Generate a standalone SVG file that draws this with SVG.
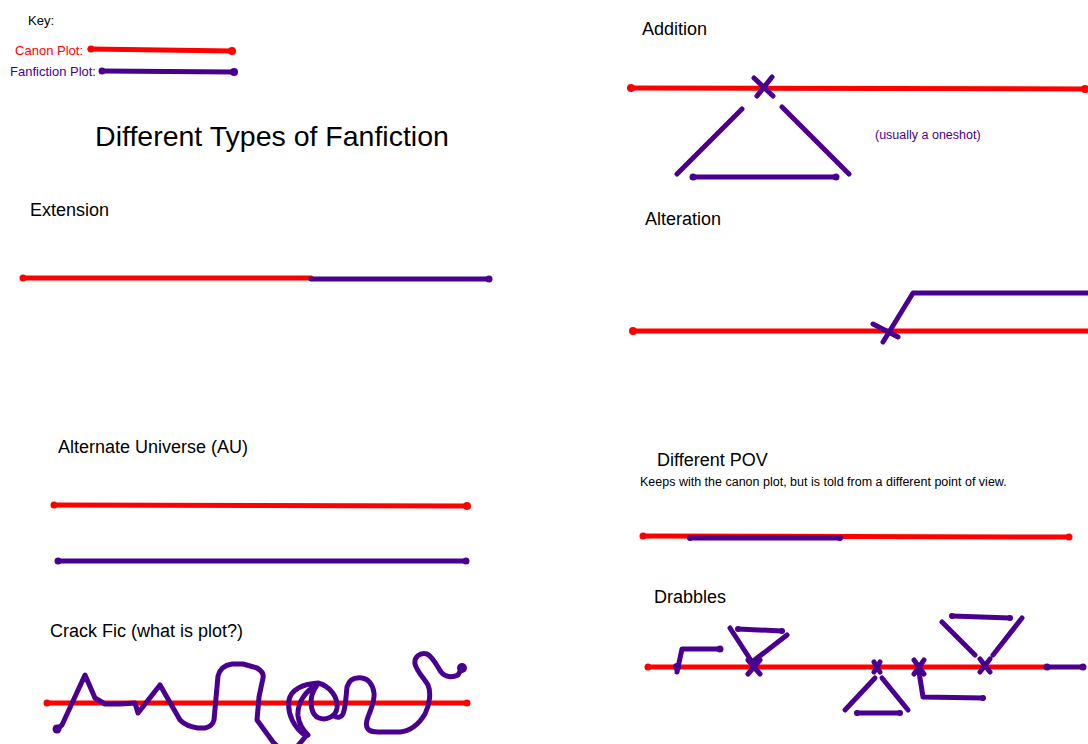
<svg xmlns="http://www.w3.org/2000/svg" width="1088" height="744" viewBox="0 0 1088 744">
<style>
text{font-family:"Liberation Sans",Arial,sans-serif;fill:#000}
.h{font-size:18px}
.s{font-size:12.5px}
.k{font-size:13px}
.red{stroke:#ff0000;stroke-width:5;fill:none;stroke-linecap:round;stroke-linejoin:round}
.pur{stroke:#4a008f;stroke-width:5;fill:none;stroke-linecap:round;stroke-linejoin:round}
.rd{fill:#ff0000}
.pd{fill:#4a008f}
</style>
<rect width="1088" height="744" fill="#fff"/>

<g id="key">
<text x="28" y="25" class="k">Key:</text>
<text x="83" y="55" class="k" text-anchor="end" style="fill:#ff0000">Canon Plot:</text>
<path class="red" d="M90,49 L233,51"/>
<circle class="rd" cx="91" cy="49" r="3.5"/><circle class="rd" cx="232" cy="51" r="4"/>
<text x="96" y="76" class="k" text-anchor="end" style="fill:#4a008f">Fanfiction Plot:</text>
<path class="pur" d="M102,71 L234,72"/>
<circle class="pd" cx="102" cy="71" r="3.5"/><circle class="pd" cx="234" cy="72" r="4"/>
</g>

<g id="title">
<text x="272" y="146" font-size="28.5" text-anchor="middle">Different Types of Fanfiction</text>
</g>

<g id="extension">
<text x="30" y="216" class="h">Extension</text>
<path class="red" d="M23,278 L311,278"/>
<path class="pur" d="M311,279 L489,279"/>
<circle class="rd" cx="23" cy="278" r="3.5"/><circle class="pd" cx="489" cy="279" r="3.5"/>
</g>

<g id="au">
<text x="58" y="453" class="h">Alternate Universe (AU)</text>
<path class="red" d="M54,505 L467,506"/>
<circle class="rd" cx="54" cy="505" r="3.5"/><circle class="rd" cx="467" cy="506" r="4"/>
<path class="pur" d="M58,561 L466,561"/>
<circle class="pd" cx="58" cy="561" r="3.5"/><circle class="pd" cx="466" cy="561" r="3.5"/>
</g>

<g id="crack">
<text x="50" y="637" class="h">Crack Fic (what is plot?)</text>
<path class="red" d="M47,703 L467,703"/>
<circle class="rd" cx="47" cy="703" r="3.5"/><circle class="rd" cx="467" cy="703" r="3.5"/>
<path class="pur" d="M57,729 L62,725 L85,675 L95,698 L105,704 L120,704 L135,703 L138,713 L160,685 L180,720 C185,725 190,727 198,728 L205,728 C210,727 213,724 214,720 L218,676 C220,668 225,665 232,664 L243,664 L257,668 C262,671 264,674 263,678 L259,697 L257,720 L273,742 L283,752 L296,748 L306,736 C294,728 287,714 289,700 C291,690 302,684 318,683 C330,686 338,697 337,708 C336,716 327,721 319,718 C311,715 310,703 312,695 C314,688 318,684 318,683 M318,684 C305,691 297,703 298,716 C299,725 304,731 308,735 M334,716 C337,718 341,718 343,714 C346,706 346,695 347,687 C349,680 354,677 362,678 C368,679 373,684 374,693 C375,703 370,710 367,720 C365,728 368,732 378,732 L400,732 C410,731 419,724 425,714 C430,704 431,692 428,685 C424,678 417,672 415,664 C414,657 420,652 427,654 C433,657 437,666 441,672 C445,677 452,678 458,675 L462,668"/>
<circle class="pd" cx="57" cy="729" r="4.5"/><circle class="pd" cx="462" cy="668" r="5"/>
</g>

<g id="addition">
<text x="642" y="35" class="h">Addition</text>
<path class="red" d="M631,88 L1085,89"/>
<circle class="rd" cx="631" cy="88" r="4"/><circle class="rd" cx="1085" cy="89" r="4"/>
<path class="pur" d="M754,78 L773,96 M772,77 L757,96"/>
<path class="pur" d="M742,109 L677,174 M782,107 L849,174 M693,177 L836,177"/>
<circle class="pd" cx="693" cy="177" r="3.5"/><circle class="pd" cx="836" cy="177" r="3.5"/>
<text x="875" y="139" class="s" style="fill:#4a008f">(usually a oneshot)</text>
</g>

<g id="alteration">
<text x="645" y="225" class="h">Alteration</text>
<path class="red" d="M633,331 L1088,331"/>
<circle class="rd" cx="633" cy="331" r="4"/>
<path class="pur" d="M883,342 L913,293 L1088,293 M873,324 L898,337"/>
</g>

<g id="pov">
<text x="657" y="466" class="h">Different POV</text>
<text x="640" y="486" class="s">Keeps with the canon plot, but is told from a different point of view.</text>
<path class="red" d="M643,536 L1069,537"/>
<circle class="rd" cx="643" cy="536" r="3.5"/><circle class="rd" cx="1069" cy="537" r="3.5"/>
<path class="pur" d="M690,538 L840,538"/>
<circle class="pd" cx="690" cy="538" r="3"/><circle class="pd" cx="840" cy="538" r="3"/>
</g>

<g id="drabbles">
<text x="654" y="603" class="h">Drabbles</text>
<path class="red" d="M648,667 L1047,667"/>
<circle class="rd" cx="648" cy="667" r="3.5"/>
<path class="pur" d="M1047,667 L1083,667"/>
<circle class="pd" cx="1047" cy="667" r="3.5"/><circle class="pd" cx="1083" cy="667" r="3.5"/>
<path class="pur" d="M677,672 L682,649 L720,649"/>
<circle class="pd" cx="677" cy="667" r="4"/><circle class="pd" cx="720" cy="649" r="3.5"/>
<path class="pur" d="M748,660 L760,674 M760,660 L748,674 M730,628 L752,662 M787,635 L752,662 M738,629 L782,631"/>
<circle class="pd" cx="738" cy="629" r="3"/><circle class="pd" cx="782" cy="631" r="3"/>
<path class="pur" d="M874,662 L880,672 M880,662 L874,672 M875,678 L845,710 M882,678 L908,710 M857,713 L900,713"/>
<circle class="pd" cx="857" cy="713" r="3"/><circle class="pd" cx="900" cy="713" r="3"/>
<path class="pur" d="M914,660 L924,674 M924,660 L914,674 M919,672 L923,697 L983,698"/>
<circle class="pd" cx="983" cy="698" r="3"/>
<path class="pur" d="M980,659 L990,672 M990,659 L980,672 M942,622 L975,655 M1022,618 L993,655 M952,616 L1010,618"/>
<circle class="pd" cx="952" cy="616" r="3"/><circle class="pd" cx="1010" cy="618" r="3"/>
</g>
</svg>
